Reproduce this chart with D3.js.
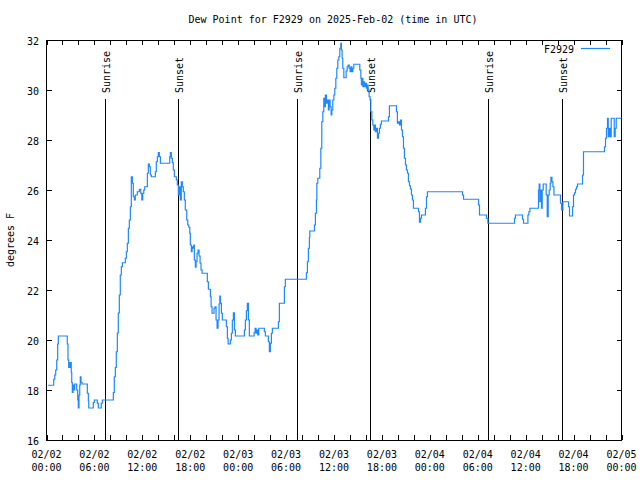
<!DOCTYPE html>
<html><head><meta charset="utf-8">
<script src="https://cdn.jsdelivr.net/npm/d3@7"></script>
<style>body{margin:0;background:#fff}svg{display:block}text{font-family:"DejaVu Sans Mono",monospace;font-size:10px;fill:#000}</style>
</head><body><svg id="c" width="640" height="480"></svg>
<script>
const title = "Dew Point for F2929 on 2025-Feb-02 (time in UTC)";
const yLabel = "degrees F";
const seriesName = "F2929";
const startTime = Date.UTC(2025, 1, 2, 0, 0);
const hours = [0.2,0.78,0.9,1.03,1.15,1.28,1.4,1.48,2.53,2.6,2.69,2.78,2.86,2.94,3.03,3.1,3.16,3.23,3.32,3.44,3.53,3.7,3.78,3.91,3.98,4.07,4.16,4.23,4.32,4.45,5.04,5.11,5.24,5.29,5.74,5.86,5.99,6.24,6.36,6.49,6.74,6.86,6.99,8.24,8.37,8.49,8.62,8.74,8.87,8.99,9.12,9.24,9.37,9.5,9.8,9.87,10.0,10.12,10.25,10.37,10.5,10.62,10.75,10.87,11.0,11.12,11.37,11.62,11.8,11.93,12.05,12.18,12.3,12.55,12.63,12.75,12.88,13.0,13.13,13.5,13.63,13.75,13.88,14.0,14.13,14.26,15.31,15.43,15.51,15.63,15.76,15.88,16.01,16.13,16.26,16.38,16.51,16.63,16.76,16.88,17.01,17.13,17.26,17.38,17.56,17.69,17.81,17.94,18.01,18.14,18.23,18.31,18.44,18.51,18.64,18.73,18.85,18.98,19.1,19.23,19.35,19.48,20.02,20.14,20.27,20.39,20.52,20.61,20.73,20.86,20.98,21.11,21.23,21.36,21.48,21.61,21.7,21.77,21.9,22.02,22.4,22.52,22.65,22.74,22.9,23.02,23.15,23.27,23.4,23.53,23.65,24.65,24.78,24.9,25.03,25.15,25.28,25.4,25.87,25.99,26.12,26.24,26.33,26.46,26.58,27.16,27.28,27.41,27.66,27.78,27.91,28.03,28.16,28.28,28.91,29.04,29.16,29.66,29.79,29.91,32.42,32.54,32.67,32.79,32.92,32.97,33.42,33.55,33.67,33.8,33.85,33.97,34.1,34.22,34.35,34.47,34.6,34.72,34.85,34.92,35.05,35.17,35.3,35.39,35.51,35.64,35.73,35.85,35.98,36.1,36.23,36.35,36.48,36.6,36.73,36.85,36.93,37.02,37.1,37.23,37.43,37.52,37.65,37.77,37.9,38.02,38.11,38.24,38.36,38.48,39.11,39.23,39.36,39.43,39.52,39.61,39.69,39.81,39.94,40.06,40.15,40.27,40.4,40.52,40.61,40.74,40.86,40.99,41.06,41.19,41.31,41.44,41.56,41.69,41.81,41.94,42.69,42.82,42.94,43.69,43.82,43.94,44.07,44.19,44.32,44.45,44.57,44.7,44.82,44.95,45.07,45.2,45.32,45.45,45.57,45.7,45.82,45.95,46.45,46.58,46.7,46.83,46.95,47.33,47.45,47.58,47.7,51.97,52.09,52.22,53.97,54.1,54.22,54.97,55.09,55.27,58.47,58.6,58.72,59.48,59.6,59.73,60.15,60.28,60.4,60.53,61.48,61.61,61.69,61.78,61.91,61.98,62.07,62.2,62.45,62.57,62.7,62.82,62.95,63.07,63.16,63.29,63.41,63.54,64.24,64.36,64.49,64.66,65.24,65.37,65.49,65.74,65.87,65.99,66.12,66.24,66.37,66.49,66.99,67.12,67.24,69.75,69.87,70.0,70.12,70.25,70.34,70.46,70.59,70.71,70.96,71.09,71.21,71.34,72.0];
const dewF = [18.19,18.19,18.43,18.6,18.8,19.2,19.84,20.16,20.16,19.84,19.2,18.9,19.1,18.9,19.1,18.7,18.3,17.9,18.2,18.0,18.24,18.24,18.0,17.6,17.28,17.8,18.2,18.53,18.3,18.24,18.24,17.87,17.57,17.28,17.28,17.5,17.6,17.6,17.47,17.28,17.28,17.47,17.6,17.6,17.9,18.53,18.9,19.53,20.28,21.08,21.8,22.6,22.93,23.09,23.09,23.27,23.53,23.87,24.47,24.8,25.33,26.53,26.27,25.73,25.6,25.8,25.93,26.03,25.87,25.6,25.87,26.0,26.13,26.13,26.67,27.04,26.93,26.6,26.53,26.53,26.73,27.13,27.33,27.5,27.33,27.07,27.07,27.33,27.5,27.27,27.09,26.8,26.53,26.53,26.4,26.2,25.8,26.13,25.6,26.33,26.13,25.93,25.6,25.2,24.8,24.6,24.51,24.27,23.8,23.53,23.73,23.67,23.8,23.2,22.91,23.13,23.47,23.6,23.36,23.07,22.8,22.67,22.67,22.33,22.03,22.03,21.73,21.33,21.07,21.07,21.27,21.33,20.8,20.47,20.8,21.44,21.76,21.47,21.07,20.8,20.8,20.53,20.07,19.84,19.84,20.0,20.27,20.8,21.09,20.4,20.16,20.16,20.4,20.8,21.17,21.47,20.8,20.16,20.16,20.29,20.47,20.27,20.4,20.2,20.47,20.47,20.33,20.16,20.16,19.93,19.53,19.87,20.27,20.47,20.47,20.73,21.47,21.47,22.13,22.43,22.43,22.69,23.13,23.67,24.11,24.36,24.36,24.6,25.07,25.6,26.27,26.47,26.47,26.87,27.67,28.73,29.13,29.67,29.33,29.8,29.47,29.6,29.2,29.6,29.33,29.0,29.2,29.6,29.8,30.07,30.47,30.87,31.2,31.33,31.67,31.87,31.6,31.27,30.87,30.49,30.49,30.76,30.93,31.0,30.87,30.73,30.93,30.73,30.87,31.03,31.03,30.8,30.47,30.2,30.47,30.13,30.33,30.13,30.27,30.07,30.2,30.0,29.73,29.6,29.13,28.8,28.6,28.4,28.6,28.33,28.47,28.07,28.27,28.47,28.63,28.76,28.76,28.93,29.37,29.37,29.13,28.67,28.73,28.6,28.8,28.4,28.13,27.67,27.27,27.0,26.8,26.67,26.33,26.17,26.04,25.8,25.6,25.27,25.27,25.13,24.71,24.87,25.0,25.0,25.27,25.73,25.93,25.93,25.8,25.63,25.63,25.4,25.0,25.0,24.87,24.67,24.67,24.87,25.0,25.0,24.83,24.67,24.67,25.0,25.13,25.27,25.27,26.0,26.24,25.53,26.0,25.27,26.0,26.24,26.24,25.8,24.93,25.8,26.0,26.27,26.51,26.33,26.13,25.8,25.8,25.47,25.2,25.53,25.53,25.33,24.96,24.96,25.33,25.8,25.89,26.03,26.13,26.24,26.24,26.6,27.53,27.53,27.73,28.07,28.47,28.87,28.13,28.47,28.13,28.87,28.87,28.13,28.47,28.87,28.87];
const sunHours = [7.37, 16.52, 31.40, 40.56, 55.34, 64.61];
const sunLabels = ["Sunrise","Sunset","Sunrise","Sunset","Sunrise","Sunset"];
const yTicks = [16,18,20,22,24,26,28,30,32];
const yDomain = [16, 32];
const xSpanHours = 72;

const svg = d3.select("#c");
const L = 46.5, R = 621.5, T = 40, B = 440;
const t0 = new Date(startTime);
const t1 = new Date(startTime + xSpanHours * 3600e3);
const x = d3.scaleUtc().domain([t0, t1]).range([L, R]);
const y = d3.scaleLinear().domain(yDomain).range([B, T]);
const toDate = h => new Date(startTime + h * 3600e3);

svg.append("text").attr("x", 333).attr("y", 23).attr("text-anchor", "middle").text(title);

// ticks
const minor = d3.utcHour.every(2).range(t0, new Date(+t1 + 1));
const major = d3.utcHour.every(6).range(t0, new Date(+t1 + 1));
const g = svg.append("g").attr("stroke", "#000").attr("stroke-width", 1).attr("shape-rendering", "crispEdges");
minor.forEach(d => {
  const xx = Math.round(x(d)) + 0.5;
  g.append("line").attr("x1", xx).attr("x2", xx).attr("y1", B).attr("y2", B - 5);
  g.append("line").attr("x1", xx).attr("x2", xx).attr("y1", T).attr("y2", T + 5);
});
yTicks.forEach(v => {
  const yy = Math.round(y(v)) + 0.5;
  g.append("line").attr("x1", L).attr("x2", L + 5).attr("y1", yy).attr("y2", yy);
  g.append("line").attr("x1", R).attr("x2", R - 5).attr("y1", yy).attr("y2", yy);
  svg.append("text").attr("x", 39).attr("y", yy + 4).attr("text-anchor", "end").text(v);
});
const fD = d3.utcFormat("%m/%d"), fT = d3.utcFormat("%H:%M");
major.forEach(d => {
  svg.append("text").attr("x", x(d)).attr("y", 457.5).attr("text-anchor", "middle").text(fD(d));
  svg.append("text").attr("x", x(d)).attr("y", 471).attr("text-anchor", "middle").text(fT(d));
});

// sunrise / sunset
sunHours.forEach((h, i) => {
  const xx = Math.round(x(toDate(h))) + 0.5;
  g.append("line").attr("x1", xx).attr("x2", xx).attr("y1", 99).attr("y2", B);
  svg.append("text").attr("transform", `translate(${xx + 4.5},93) rotate(-90)`).attr("text-anchor", "start").text(sunLabels[i]);
});

// data
const data = hours.map((h, i) => ({t: toDate(h), v: dewF[i]}));
svg.append("path").datum(data)
  .attr("fill", "none").attr("stroke", "#1e88ff").attr("stroke-width", 1.2)
  .attr("d", d3.line().x(d => x(d.t)).y(d => y(d.v)).curve(d3.curveStepAfter));

// frame
g.append("rect").attr("x", L).attr("y", T + 0.5).attr("width", R - L).attr("height", B - T).attr("fill", "none");

// y label
svg.append("text").attr("transform", "translate(14,240) rotate(-90)").attr("text-anchor", "middle").text(yLabel);

// legend
svg.append("text").attr("x", 574).attr("y", 53).attr("text-anchor", "end").text(seriesName);
svg.append("line").attr("x1", 581).attr("x2", 610).attr("y1", 48.5).attr("y2", 48.5).attr("stroke", "#1e88ff").attr("stroke-width", 1.2);
</script></body></html>
